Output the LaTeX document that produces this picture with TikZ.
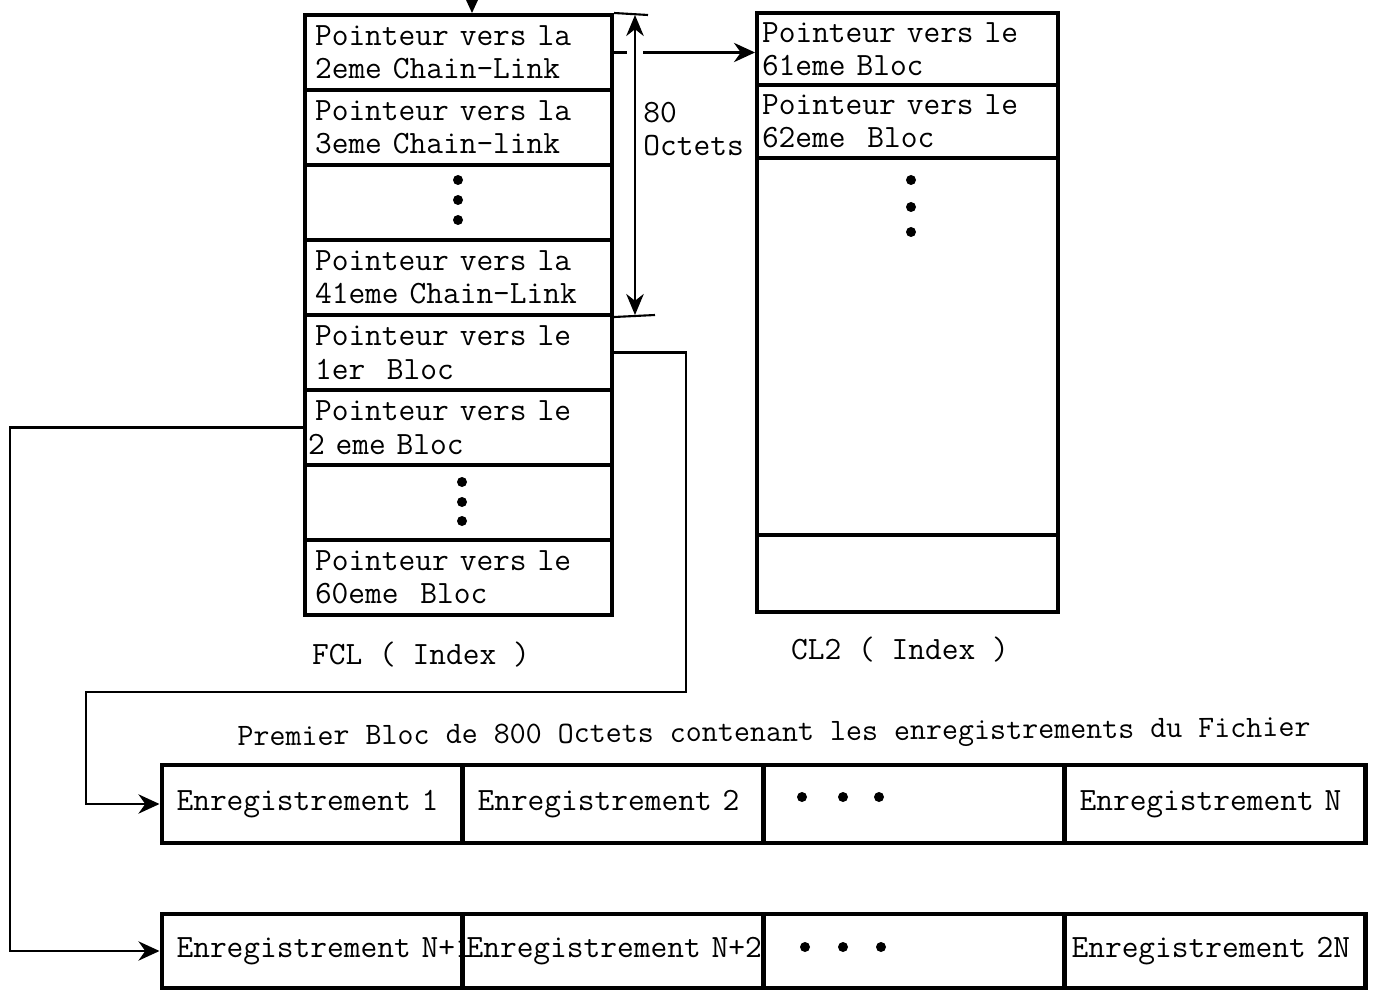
\documentclass[tikz,border=0pt]{standalone}
\usetikzlibrary{arrows.meta}
\begin{document}
\begin{tikzpicture}[x=0.02cm,y=-0.02cm,
  box/.style={draw, line width=2.3pt, inner ysep=0pt, align=left, font=\fontsize{18.5}{19}\selectfont\ttfamily},
  fcell/.style={box, minimum width=6.14cm, minimum height=1.5cm, text width=5.74cm, inner xsep=0.2cm},
  ccell/.style={box, minimum width=6.02cm, text width=5.82cm, inner xsep=0.1cm},
  ecell/.style={box, minimum width=6.02cm, minimum height=#1, text width=5.42cm, inner xsep=0.3cm},
  conn/.style={line width=1.2pt, -{Stealth[length=12pt,width=11pt]}},
  thin/.style={line width=1.2pt},
  lbl/.style={font=\fontsize{18.5}{19}\selectfont\ttfamily, align=left},
  dotfill/.style={fill=black}
]
\useasboundingbox (0,0) rectangle (1373,993);

% FCL index
\node[fcell] (f1) at (458.5,52.5) {Pointeur vers la\\2eme Chain-Link};
\node[fcell] (f2) at (458.5,127.5) {Pointeur vers la\\3eme Chain-link};
\node[fcell] (f3) at (458.5,202.5) {};
\node[fcell] (f4) at (458.5,277.5) {Pointeur vers la\\41eme Chain-Link};
\node[fcell] (f5) at (458.5,352.5) {Pointeur vers le\\1er\ \ Bloc};
\node[fcell] (f6) at (458.5,427.5) {Pointeur vers le\\\hspace*{-0.14cm}2 eme Bloc};
\node[fcell] (f7) at (458.5,502.5) {};
\node[fcell] (f8) at (458.5,577.5) {Pointeur vers le\\60eme\ \ Bloc};
\fill[dotfill] (458,180) circle (5) (458,200) circle (5) (458,220) circle (5);
\fill[dotfill] (462,482) circle (5) (462,502) circle (5) (462,521) circle (5);

% CL2 index
\node[ccell, minimum height=1.44cm] (c1) at (907.5,49) {Pointeur vers le\\61eme Bloc};
\node[ccell, minimum height=1.46cm] (c2) at (907.5,121.5) {Pointeur vers le\\62eme\ \ Bloc};
\node[ccell, minimum height=7.54cm] (c3) at (907.5,346.5) {};
\node[ccell, minimum height=1.54cm] (c4) at (907.5,573.5) {};
\fill[dotfill] (911,180) circle (5) (911,207) circle (5) (911,232) circle (5);

% labels
\node[lbl] (fcl) at (421,655) {FCL ( Index )};
\node[lbl] (cl2) at (900,650) {CL2 ( Index )};
\node[lbl, anchor=north west, inner sep=0pt] (oct) at (643,102) {80\\Octets};
\node[lbl, font=\fontsize{17.7}{19}\selectfont\ttfamily, rotate=0.5] (title) at (774,735) {Premier Bloc de 800 Octets contenant les enregistrements du Fichier};

% records, first block
\node[ecell=1.56cm] (a1) at (312,804) {Enregistrement 1};
\node[ecell=1.56cm] (a2) at (613,804) {Enregistrement 2};
\node[ecell=1.56cm] (a3) at (914,804) {};
\node[ecell=1.56cm] (a4) at (1215,804) {Enregistrement N};
\fill[dotfill] (802,797) circle (5) (843,797) circle (5) (879,797) circle (5);

% records, second block
\node[ecell=1.48cm] (b1) at (312,951) {\mbox{Enregistrement N+1}};
\node[ecell=1.48cm, inner xsep=0.08cm, text width=5.86cm] (b2) at (613,951) {\mbox{Enregistrement N+2}};
\node[ecell=1.48cm] (b3) at (914,951) {};
\node[ecell=1.48cm, inner xsep=0.14cm, text width=5.74cm] (b4) at (1215,951) {Enregistrement 2N};
\fill[dotfill] (805,947) circle (5) (843,947) circle (5) (881,947) circle (5);

% connectors
\coordinate (top) at (472,-14);
\draw[conn] (top) -- (top |- f1.north);

\draw[conn] (f1.east) -- (f1.east -| c1.west);
\draw[white, line width=9pt] (635,35) -- (635,295);

\coordinate (dt) at (635,15);
\coordinate (db) at (635,315);
\draw[thin, {Stealth[length=12pt,width=10pt]}-{Stealth[length=12pt,width=10pt]}] (dt) -- (db);
\draw[thin] (f1.north east) -- (648,15);
\draw[thin] (f4.south east) -- (655,315);

\coordinate (r1) at (686,692);
\coordinate (r2) at (86,692);
\draw[conn] (f5.east) -| (r1) -- (r2) |- (a1.west);

\coordinate (l1) at (10,700);
\draw[conn] (f6.west) -| (l1) |- (b1.west);
\end{tikzpicture}
\end{document}
